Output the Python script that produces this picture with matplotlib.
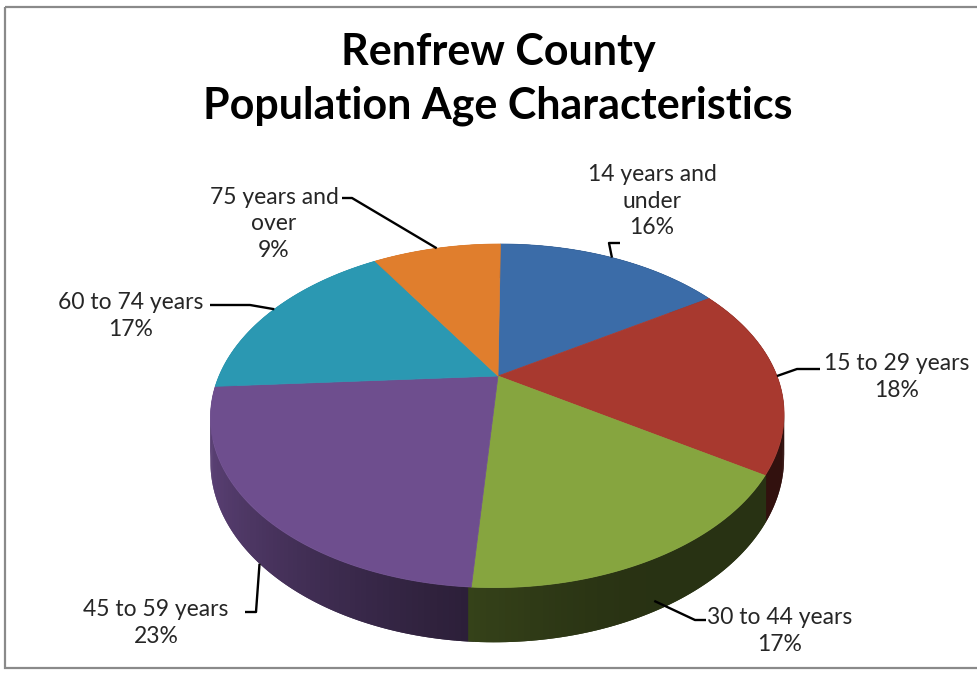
import numpy as np
import matplotlib.pyplot as plt
from matplotlib.patches import Polygon, Rectangle

plt.rcParams['font.family'] = ['Lato', 'DejaVu Sans']

# data
groups = ["14 years and\nunder", "15 to 29 years", "30 to 44 years",
          "45 to 59 years", "60 to 74 years", "75 years and\nover"]
shares = [16, 18, 17, 23, 17, 9]
colors = ["#3b6ca8", "#a8392f", "#86a53f", "#6e4e8e", "#2b98b2", "#e07e2d"]

# label layout (pixel coords): text centre, elbow, end of leader, where on the wall it hooks
label_xy = [(652, 201), (897, 377), (780, 631), (156, 623), (131, 316), (274, 224)]
elbow_xy = [(609, 243), (797, 369), (695, 620), (256, 612), (250, 305), (352, 198)]
end_xy = [(620, 243), (820, 369), (706, 620), (245, 612), (210, 305), (342, 198)]
hook_z = [0, 0, 0.8, 1.0, 0, 0]

# tilted disc seen in perspective
CX, CY = 498, 376
AX, BX, CV, PERSP, DEPTH = 279, 3, 162.6, 0.2317, 42


def proj(theta, z=0.0):
    t = np.radians(theta)
    u, v = np.sin(t), np.cos(t)
    w = 1 + PERSP * v
    return CX + (AX * u + BX * v) / w, CY - CV * v / w + DEPTH * z / w


def shade(theta):
    if theta < 150:
        return 0.3
    s = np.sin(np.radians(min(theta - 150, 120) / 120 * 90))
    return 0.3 + 0.55 * s ** 2


def darker(c, f):
    r, g, b = [int(c[i:i + 2], 16) / 255 for i in (1, 3, 5)]
    return (r * f, g * f, b * f)


fig = plt.figure(figsize=(9.77, 6.75), dpi=100)
ax = fig.add_axes([0, 0, 1, 1])
ax.set_xlim(0, 977)
ax.set_ylim(675, 0)
ax.axis('off')

bounds = np.concatenate([[0], np.cumsum(shares)]) / sum(shares) * 360

# side wall strips, far ones first (slightly overlapping so no seams show)
strips = []
for i in range(len(shares)):
    a = np.linspace(bounds[i], bounds[i + 1], int(bounds[i + 1] - bounds[i]) + 2)
    for a0, a1 in zip(a[:-1], a[1:]):
        strips.append((np.cos(np.radians((a0 + a1) / 2)), a0, a1, i))
strips.sort(key=lambda s: -s[0])
for k, (_, a0, a1, i) in enumerate(strips):
    b0, b1 = a0 - 0.5, a1 + 0.5
    pts = [proj(b0), proj(b1), proj(b1, 1), proj(b0, 1)]
    col = darker(colors[i], shade((a0 + a1) / 2))
    ax.add_patch(Polygon(pts, closed=True, facecolor=col, edgecolor='none',
                         lw=0, zorder=1 + k * 1e-4))

# top faces
for i in range(len(shares)):
    a = np.linspace(bounds[i], bounds[i + 1], 120)
    pts = [(CX, CY)] + [proj(t) for t in a]
    ax.add_patch(Polygon(pts, closed=True, facecolor=colors[i],
                         edgecolor=colors[i], lw=0.5, zorder=3))

# labels and leader lines
for i in range(len(shares)):
    mid = (bounds[i] + bounds[i + 1]) / 2
    hx, hy = proj(mid, hook_z[i])
    ax.plot([hx, elbow_xy[i][0], end_xy[i][0]], [hy, elbow_xy[i][1], end_xy[i][1]],
            color='black', lw=1.7, zorder=4, solid_capstyle='butt')
    ax.text(label_xy[i][0], label_xy[i][1], f"{groups[i]}\n{shares[i]}%",
            ha='center', va='center', fontsize=16.5, color='#262626',
            linespacing=1.35, zorder=5)

ax.text(498, 52, "Renfrew County", ha='center', va='center',
        fontsize=31, fontweight='bold', color='black')
ax.text(498, 106, "Population Age Characteristics", ha='center', va='center',
        fontsize=31, fontweight='bold', color='black')

ax.add_patch(Rectangle((5, 7), 990, 661, fill=False, edgecolor='#8a8a8a',
                       lw=1.6, zorder=6, clip_on=False))

fig.savefig('out.png', dpi=100)
